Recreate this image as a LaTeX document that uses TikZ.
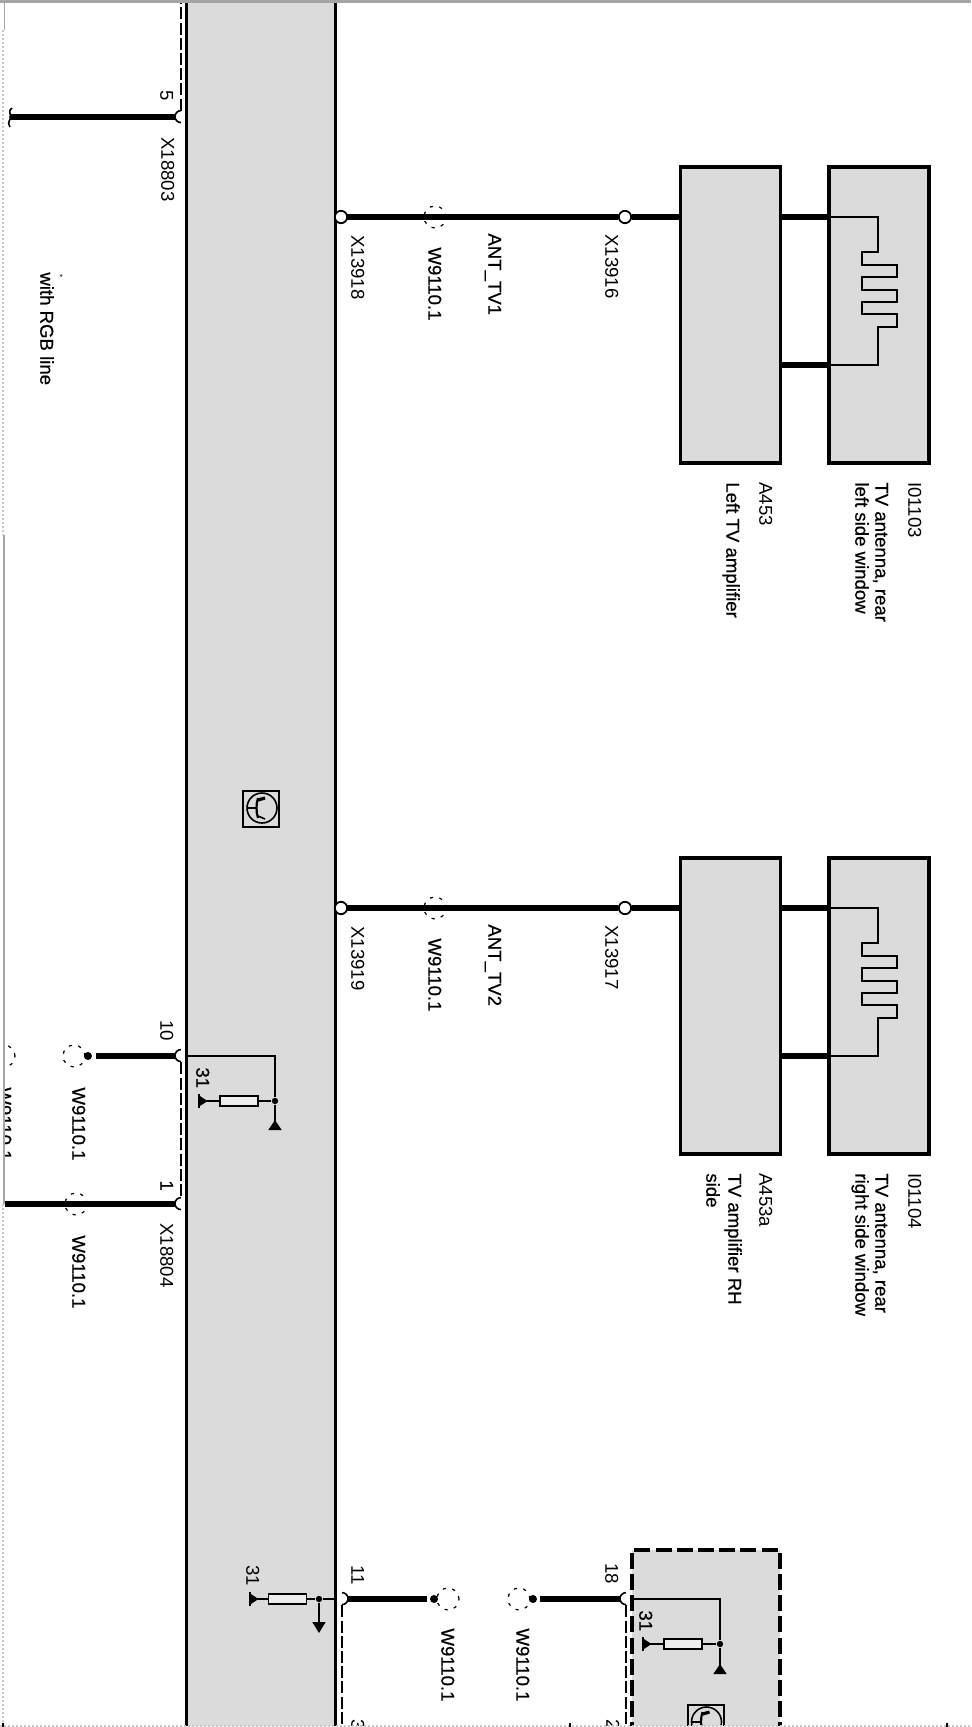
\documentclass[tikz,border=0pt]{standalone}
\usepackage{fontspec}
\setmainfont{Liberation Sans}
\newfontfamily\heavyfont[FakeBold=0.6]{Liberation Sans}
\usetikzlibrary{arrows.meta}

\tikzset{
    lbl/.style={rotate=-90,anchor=west,inner sep=0pt,text height=6.7pt,text depth=0pt,font=\fontsize{9.3}{11}\selectfont},
    lblh/.style={lbl,font=\heavyfont\fontsize{9.3}{11}\selectfont},
    wire/.style={line width=3pt},
    thinwire/.style={line width=0.8pt},
    dashwire/.style={line width=0.7pt,dash pattern=on 6pt off 1.6pt},
    unitbox/.style={draw,line width=1.8pt,fill=boxgray,inner sep=0pt,minimum width=50pt,minimum height=148pt},
    dashbox/.style={draw,line width=1.8pt,fill=boxgray,inner sep=0pt,dash pattern=on 8pt off 2.6pt,minimum width=74pt,minimum height=105pt},
    pinopen/.style={circle,draw,line width=0.9pt,fill=white,inner sep=0pt,minimum size=6.2pt},
    pinhalf/.style={circle,fill=white,inner sep=0pt,minimum size=6pt},
    splice/.style={circle,draw,line width=0.6pt,dash pattern=on 1.6pt off 3.2pt,inner sep=0pt,minimum size=11pt},
    jdot/.style={circle,fill=black,inner sep=0pt,minimum size=3.2pt},
    enddot/.style={circle,fill=black,inner sep=0pt,minimum size=4pt},
    resbox/.style={draw,line width=0.8pt,fill=boxgray!50!white,inner sep=0pt,minimum width=19pt,minimum height=5.2pt},
    gnd/.style={-{Triangle[reversed,length=5pt,width=6.5pt]}},
    gndsmall/.style={-{Triangle[reversed,length=4pt,width=5pt]Bar[width=7pt,line width=0.8pt]}},
    arrowdown/.style={-{Triangle[length=5.5pt,width=6.5pt]}},
    meander/.pic={
        \draw[thinwire] (0,0) -- (48,0) -- (48,35) -- (32,35) -- (32,48) -- (67,48) -- (67,60)
            -- (32,60) -- (32,73) -- (67,73) -- (67,85) -- (32,85) -- (32,97) -- (67,97) -- (67,110)
            -- (48,110) -- (48,148) -- (0,148);
    },
    tsym/.pic={
        \draw[line width=1pt] (-18,-18) rectangle (18,18);
        \draw[line width=0.8pt] (1,-1) circle (7.5pt);
        \draw[line width=0.8pt] (-14,-1) -- (-4,-1);
        \draw[line width=1.1pt] (-3,-11) .. controls (-5,-5) and (-5,3) .. (-3,9);
        \draw[line width=1.6pt] (-3,-9) -- (4,-11);
        \draw[line width=0.8pt] (-3,7) -- (4,10);
    },
}

\begin{document}
\begin{tikzpicture}[x=0.5pt,y=-0.5pt]

    % Colors
    \definecolor{boxgray}{RGB}{219,219,219}
    \definecolor{rimgray}{RGB}{165,165,165}

    \useasboundingbox (0,0) rectangle (971,1727);

    \begin{scope}
    \clip (0,0) rectangle (971,1725);

    % Pins at the band
    \node[pinhalf] (p5) at (181,117) {};
    \node[pinhalf] (p10) at (181,1056) {};
    \node[pinhalf] (p1) at (181,1204) {};
    \node[pinhalf] (p11) at (342,1599) {};
    \node[pinhalf] (p18) at (626,1599) {};
    \foreach \p in {p5,p10,p1,p18}
        \draw[line width=0.8pt] (\p.north) arc[start angle=90,end angle=270,radius=3pt];
    \draw[line width=0.8pt] (p11.north) arc[start angle=90,end angle=-90,radius=3pt];

    % Dashed connector housings
    \coordinate (d5) at (181,0);
    \coordinate (d11) at (342,1727);
    \coordinate (d18) at (626,1727);
    \draw[dashwire] (p5.north) -- (d5);
    \draw[dashwire] (p10.south) -- (p1.north);
    \draw[dashwire] (p11.south) -- (d11);
    \draw[dashwire] (p18.south) -- (d18);

    % Control unit band
    \node[fill=boxgray,inner sep=0pt,minimum width=74pt,minimum height=863.5pt] (ecu) at (261,863.5) {};
    \draw[line width=1.8pt] (ecu.north west) -- (ecu.south west);
    \draw[line width=1.8pt] (ecu.north east) -- (ecu.south east);
    \pic at (261,809) {tsym};

    % Second control unit
    \node[dashbox] (ecub) at (706,1655) {};
    \pic at (705.5,1723) {tsym};

    % Amplifiers and antennas
    \node[unitbox] (a453) at (730.5,315) {};
    \node[unitbox] (i01103) at (879,315) {};
    \node[unitbox] (a453a) at (730.5,1006) {};
    \node[unitbox] (i01104) at (879,1006) {};

    % ANT_TV1
    \node[splice] (w1) at (435,217) {};
    \node[pinopen] (x13916) at (625,217) {};
    \coordinate (a1low) at (780,365);
    \draw[wire] (341,217) coordinate (s1) -- (x13916);
    \node[pinopen] (x13918) at (s1) {};
    \draw[wire] (x13916) -- (a453.west |- x13916);
    \draw[wire] (a453.east |- x13916) -- (i01103.west |- x13916);
    \draw[wire] (a1low) -- (i01103.west |- a1low);
    \pic at (830,217) {meander};

    % ANT_TV2
    \node[splice] (w2) at (435,908) {};
    \node[pinopen] (x13917) at (625,908) {};
    \coordinate (a2low) at (780,1056);
    \draw[wire] (341,908) coordinate (s2) -- (x13917);
    \node[pinopen] (x13919) at (s2) {};
    \draw[wire] (x13917) -- (a453a.west |- x13917);
    \draw[wire] (a453a.east |- x13917) -- (i01104.west |- x13917);
    \draw[wire] (a2low) -- (i01104.west |- a2low);
    \pic at (830,908) {meander};

    % Wires on the left
    \coordinate (e5) at (10,117);
    \coordinate (e1) at (5,1204);
    \draw[wire] (e5) -- (p5.west);
    \draw[thinwire] (12,108) .. controls (7,111) and (12,115) .. (e5) .. controls (12,119) and (6,122) .. (10,127);
    \node[splice] (w4) at (76,1204) {};
    \draw[wire] (e1) -- (p1.west);
    \node[enddot] (b10) at (88,1056) {};
    \node[splice] (w3) at (74,1056) {};
    \coordinate (s10) at (96,1056);
    \draw[wire] (s10) -- (p10.west);

    % Wires at the bottom
    \node[enddot] (b11) at (434,1599) {};
    \node[splice] (w5) at (448,1599) {};
    \coordinate (s11) at (427,1599);
    \draw[wire] (p11.east) -- (s11);
    \node[enddot] (b18) at (533,1599) {};
    \node[splice] (w6) at (519,1599) {};
    \coordinate (s18) at (540,1599);
    \draw[wire] (s18) -- (p18.west);

    % Terminal 31 of pin 10
    \node[jdot] (j10) at (275,1101) {};
    \node[resbox] (r10) at (239,1101) {};
    \coordinate (g10) at (275,1130);
    \coordinate (t10) at (198,1101);
    \draw[thinwire] (p10.east) -| (j10);
    \draw[thinwire,gnd] (j10) -- (g10);
    \draw[thinwire] (j10) -- (r10);
    \draw[thinwire,gndsmall] (r10) -- (t10);

    % Terminal 31 of pin 11
    \node[jdot] (j11) at (319,1599) {};
    \node[resbox] (r11) at (287.5,1599) {};
    \coordinate (g11) at (319,1633);
    \coordinate (t11) at (249,1599);
    \draw[thinwire] (p11.west) -- (j11);
    \draw[thinwire,arrowdown] (j11) -- (g11);
    \draw[thinwire] (j11) -- (r11);
    \draw[thinwire,gndsmall] (r11) -- (t11);

    % Terminal 31 of pin 18
    \node[jdot] (j18) at (720,1644) {};
    \node[resbox] (r18) at (683,1644) {};
    \coordinate (g18) at (720,1674);
    \coordinate (t18) at (642,1644);
    \draw[thinwire] (p18.east) -| (j18);
    \draw[thinwire,gnd] (j18) -- (g18);
    \draw[thinwire] (j18) -- (r18);
    \draw[thinwire,gndsmall] (r18) -- (t18);

    % Labels of the left side
    \node[lbl] (n5) at (167,90) {5};
    \node[lbl] (n18803) at (168,137) {X18803};
    \node[lblh] (nrgb) at (47,272) {with RGB line};
    \node[rotate=-90,inner sep=0pt,font=\fontsize{4}{4}\selectfont] (nmark) at (60,276) {*};
    \node[lbl] (n10) at (167,1020) {10};
    \node[lblh] (n1) at (167,1180) {1};
    \node[lbl] (n18804) at (167,1223) {X18804};
    \node[lblh] (nw3) at (79,1087) {W9110.1};
    \node[lblh] (nw4) at (79,1235) {W9110.1};
    \node[lblh] (n31a) at (203,1067) {31};

    % Labels of ANT_TV1
    \node[lbl] (n13918) at (358,235) {X13918};
    \node[lblh] (nw1) at (435,247) {W9110.1};
    \node[lblh] (nant1) at (495,233) {ANT\_TV1};
    \node[lbl] (n13916) at (612,234) {X13916};
    \node[lbl] (na453) at (766,482) {A453};
    \node[lblh] (ta453) at (733,482) {Left TV amplifier};
    \node[lbl] (ni01103) at (915,482) {I01103};
    \node[lblh] (ti01103) at (882,482) {TV antenna, rear};
    \node[lblh] (si01103) at (862,482) {left side window};

    % Labels of ANT_TV2
    \node[lbl] (n13919) at (358,926) {X13919};
    \node[lblh] (nw2) at (435,938) {W9110.1};
    \node[lblh] (nant2) at (495,924) {ANT\_TV2};
    \node[lbl] (n13917) at (612,925) {X13917};
    \node[lbl] (na453a) at (766,1173) {A453a};
    \node[lblh] (ta453a) at (735,1173) {TV amplifier RH};
    \node[lblh] (sa453a) at (713,1173) {side};
    \node[lbl] (ni01104) at (915,1173) {I01104};
    \node[lblh] (ti01104) at (882,1173) {TV antenna, rear};
    \node[lblh] (si01104) at (862,1173) {right side window};

    % Labels at the bottom
    \node[lbl] (n31b) at (253,1565) {31};
    \node[lbl] (n11) at (358,1565) {11};
    \node[lblh] (nw5) at (448,1628) {W9110.1};
    \node[lblh] (nw6) at (523,1628) {W9110.1};
    \node[lbl] (n18) at (612,1563) {18};
    \node[lblh] (n31c) at (646,1610) {31};
    \node[lbl] (n3) at (358,1719) {3};
    \node[lbl] (n2) at (613,1719) {2};
    \end{scope}

    % Cut off at the left edge
    \begin{scope}
    \clip (5,980) rectangle (30,1180);
    \node[splice] (w7) at (4,1056) {};
    \node[lblh] (nw7) at (5,1087) {W9110.1};
    \end{scope}

    % Page rim
    \draw[rimgray,line width=1.5pt] (0,1.5) -- (971,1.5);
    \draw[rimgray,line width=0.5pt] (4,0) -- (4,30);
    \draw[rimgray!60,line width=1pt,densely dotted] (3,30) -- (3,535);
    \draw[rimgray,line width=0.8pt] (4,535) -- (4,1204);
    \draw[rimgray!60,line width=1pt,densely dotted] (3,1204) -- (3,1727);
    \draw[rimgray!60,line width=1pt,densely dotted] (0,1726) -- (971,1726);
    \foreach \t in {3,570,947}
        \draw[line width=0.8pt] (\t,1723) -- (\t,1727);

\end{tikzpicture}
\end{document}
